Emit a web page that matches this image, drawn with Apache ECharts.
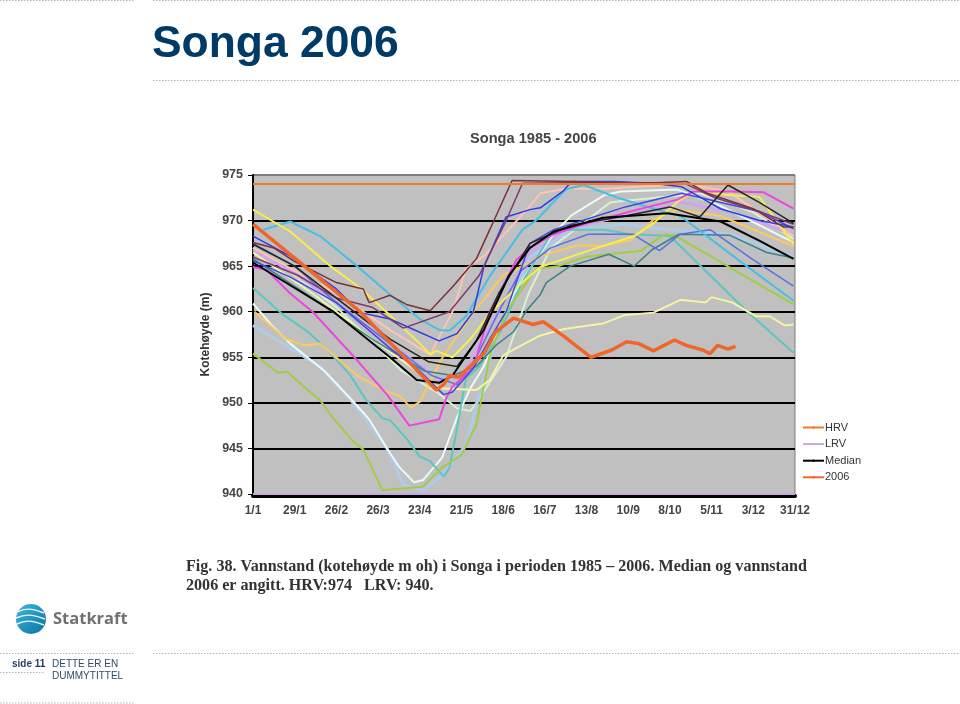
<!DOCTYPE html>
<html><head><meta charset="utf-8">
<style>html,body{margin:0;padding:0;background:#fff}#c{width:960px;height:704px}</style>
<script src="https://cdn.jsdelivr.net/npm/echarts@6/dist/echarts.min.js"></script>
</head><body><div id="c"></div>
<script>
// x = days since 1 Jan, y = kotehøyde (m)
const tickLabels = ['1/1','29/1','26/2','26/3','23/4','21/5','18/6','16/7','13/8','10/9','8/10','5/11','3/12','31/12'];
const hrv = [[0,974],[364,974]];
const lrv = [[0,940],[364,940]];
const y2006 = [[0,969.6],[72,960],[123,951.4],[128,952],[132,953],[138,952.8],[155,955.4],[163,957.8],[175,959.3],[188,958.6],[195,958.9],[208,957.4],[227,955],[241,955.8],[251,956.7],[259,956.5],[269,955.7],[283,956.9],[291,956.3],[302,955.8],[307,955.4],[312,956.3],[319,955.9],[324,956.2]];
const median = [[0,965.4],[28,962.6],[54,960],[92,955],[110,952.5],[125,952.2],[134,953],[155,958],[172,964],[186,967],[202,968.8],[235,970.3],[278,970.8],[314,969.9],[340,967.8],[363,965.8]];
const darkOlive = [[0,967.4],[28,965],[56,961.5],[92,957],[118,954.5],[137,954],[150,956.8],[165,962],[186,967.5],[214,969.5],[250,970.5],[280,971.5],[300,970.4],[319,973.9],[340,972],[363,969.7]];
const maroonA = [[0,967.6],[14,967],[27,965.6],[56,963.2],[74,962.5],[78,961],[92,961.8],[103,960.8],[119,960.1],[135,962.9],[150,965.8],[159,969],[174,974.4],[215,974.3],[250,974],[291,974.3],[305,973],[336,971.3],[356,969.3],[363,969.3]];
const maroonB = [[0,966],[30,964],[56,961.5],[80,960.5],[101,958.2],[132,960],[152,964],[170,970],[181,974.1],[240,974.2],[291,974],[310,972.5],[340,971],[363,969.6]];
const blueA = [[0,968.3],[25,966.1],[56,962.5],[72,959.9],[92,959.2],[125,956.8],[137,957.6],[148,960],[155,964.9],[170,970.4],[186,971.2],[193,971.4],[208,973.2],[214,974.3],[243,974.3],[268,974.1],[288,973.7],[314,971.3],[340,970],[363,969.3]];
const blueB = [[0,965.6],[25,963.8],[56,961],[92,956],[112,953.5],[128,950.9],[134,951.2],[148,953.8],[159,957],[170,960],[186,967.5],[202,969],[250,971.5],[288,973],[340,971],[363,969.1]];
const steelBlue = [[0,967.5],[28,965],[56,961],[92,956.5],[120,953],[137,952],[150,955],[165,960],[180,964.5],[200,967],[225,968.5],[255,968.5],[273,966.7],[287,968.5],[307,969],[335,965.8],[363,962.8]];
const yellow = [[0,971.2],[25,968.8],[52,965],[72,962.6],[92,959.6],[112,956.5],[119,955.3],[123,955.7],[134,955],[146,957],[160,960],[180,963.1],[193,964.9],[231,967],[256,968.3],[269,969.7],[287,972.3],[298,973.4],[319,972.8],[340,972.6],[363,967.4]];
const cyan = [[7,969],[25,969.9],[45,968.3],[70,965],[92,961.9],[112,959.2],[125,958],[132,957.9],[143,959.5],[159,963.9],[181,969],[190,970],[201,971.9],[210,973.4],[222,973.9],[245,972.5],[265,971.5],[287,970.5],[325,965.8],[363,961.2]];
const paleBlue = [[0,958.5],[25,956],[45,954],[67,950],[90,945],[101,941],[114,940.4],[127,942],[143,945.4],[155,952.7],[165,958],[170,960],[186,966],[214,969],[250,969.6],[280,969],[320,968.5],[363,966]];
const white = [[0,960.9],[12,958.6],[25,956.5],[48,953.5],[67,950.2],[78,948.2],[90,945],[98,943],[108,941.3],[114,941.5],[127,944],[137,948.4],[146,951.6],[155,954],[159,955.6],[175,962],[202,968.6],[214,970.6],[236,972.8],[247,973.2],[285,973.4],[314,971.6],[340,969.5],[363,967.6]];
const teal = [[0,962.6],[20,959.7],[36,957.9],[49,956],[65,953.1],[76,950.3],[87,948.3],[92,948.1],[103,946.1],[112,944.1],[119,943.6],[128,941.9],[132,942.9],[137,947.2],[143,952.7],[152,954],[166,957.8],[180,963],[202,969],[236,969],[253,968.5],[280,968.3],[332,960],[363,955.5]];
const lime = [[0,955.4],[17,953.3],[23,953.4],[34,951.8],[45,950.3],[54,948.3],[67,945.8],[74,944.9],[87,940.4],[114,940.8],[127,942.9],[140,944.3],[150,947.6],[159,955.2],[170,960],[179,962.1],[190,964.7],[205,965],[223,966],[239,966.3],[261,966.7],[268,967.6],[277,968.5],[284,968.3],[363,960.8]];
const magenta = [[0,964.9],[9,964.6],[25,962],[40,960],[67,955.2],[90,950.9],[105,947.5],[125,948.2],[130,950.6],[134,951.8],[148,953.8],[159,960],[177,965.7],[186,967],[202,968.5],[224,969.7],[258,971.2],[285,972.3],[296,973.2],[322,973.2],[343,973.1],[363,971.3]];
const gold = [[1,960],[22,957],[35,956.3],[45,956.5],[70,953],[90,951.2],[98,950.8],[106,949.5],[112,950.1],[127,954.9],[148,960],[155,961.3],[168,964],[186,965.4],[193,966.1],[218,967.3],[236,967.2],[254,967.9],[269,970.1],[285,971.2],[314,970.5],[363,967.2]];
const paleYellow = [[0,966.5],[40,962],[80,957],[110,953.5],[125,951.6],[150,951.4],[159,952.5],[168,955.2],[179,956.2],[193,957.4],[209,958.1],[235,958.7],[249,959.6],[269,959.9],[287,961.3],[304,961],[308,961.6],[322,961],[338,959.5],[347,959.5],[357,958.5],[363,958.6]];
const darkTeal = [[0,965.8],[40,961.5],[80,957],[115,953.5],[134,953],[150,954],[163,956.3],[175,957.8],[184,960.2],[193,961.9],[197,963.2],[213,965],[239,966.3],[256,965],[268,966.8],[286,968.5],[320,968.4],[345,966.5],[363,965.9]];
const peach = [[0,967],[56,962],[92,958],[119,955.3],[134,960],[143,964.7],[155,966.1],[170,968.7],[186,971.6],[193,973],[210,973.5],[236,973.5],[291,974],[319,973.2],[363,968.3]];
const lavender = [[0,966.8],[28,964.2],[56,961],[92,956.5],[125,952.5],[140,953],[165,960],[186,966.5],[214,969.2],[260,971],[288,972],[320,971],[363,968.5]];
const paleGreen = [[0,967],[28,964],[56,960.5],[100,953.5],[125,951],[137,949.4],[146,949.1],[150,950],[170,955],[185,962],[200,967],[240,972],[300,973],[335,971],[363,968]];

const black = '#000000';
const lines = [
  ['p1',paleGreen,'#d6f2cf',2],['p2',lavender,'#cda6ee',3],['p3',peach,'#ffc4b0',2],
  ['p4',paleBlue,'#b0cbe8',3],['p5',white,'#e8fbf4',2],['p6',teal,'#5cc6c0',2],
  ['p7',lime,'#a3cb45',2],['p8',gold,'#fdc95c',2],['p9',paleYellow,'#f4f4a4',2],
  ['p10',darkTeal,'#3c8088',1.5],['p11',steelBlue,'#5a70dc',1.5],['p12',cyan,'#48bfe2',2],
  ['p13',yellow,'#f5ee4e',2],['p14',magenta,'#ec46de',2],['p15',blueB,'#4048e0',1.5],
  ['p16',blueA,'#2c3ce6',1.5],['p17',maroonB,'#7d3a6e',1.5],['p18',maroonA,'#7c2f3d',1.5],
  ['p19',darkOlive,'#26261a',1.5],
  ['HRV',hrv,'#ee7a2c',2],['LRV',lrv,'#c8a8e4',2],['Median',median,black,2],['2006',y2006,'#f0662a',3.5]
];

const dotted = (x1,y,x2,c) => ({type:'line',silent:true,shape:{x1,y1:y,x2,y2:y},style:{stroke:c||'#b4b4b4',lineWidth:1,lineDash:[1.5,1.5]}});
const txt = (x,y,text,font,fill) => ({type:'text',silent:true,x,y,style:{text,font,fill,verticalAlign:'middle',align:'left'}});
const stripe = (x1,y1,cx,y2,x2,y3) => ({type:'bezierCurve',silent:true,z:12,shape:{x1,y1,cpx1:cx,cpy1:y2,cpx2:cx+6,cpy2:y2,x2,y2:y3},style:{stroke:'#e6f6fa',lineWidth:1.4,fill:null}});

const chart = echarts.init(document.getElementById('c'),null,{renderer:'canvas'});
chart.setOption({
  animation:false,
  backgroundColor:'#ffffff',
  title:{text:'Songa 1985 - 2006',left:470,top:131,padding:0,
    textStyle:{fontFamily:'Liberation Sans',fontSize:14.6,fontWeight:'bold',color:'#444444'}},
  grid:{left:253,right:165,top:175,bottom:210,show:true,backgroundColor:'#c0c0c0',borderColor:'#7f7f7f',borderWidth:1},
  legend:{orient:'vertical',left:802,top:422,itemWidth:21,itemHeight:3,itemGap:5.6,padding:0,
    data:['HRV','LRV','Median','2006'],
    textStyle:{fontFamily:'Liberation Sans',fontSize:11,color:'#333333',padding:[0,0,0,-4]}},
  xAxis:{type:'value',min:0,max:364,interval:28,offset:2,
    axisLine:{show:true,onZero:false,lineStyle:{color:black,width:4}},
    axisTick:{show:false},splitLine:{show:false},
    axisLabel:{margin:9,fontFamily:'Liberation Sans',fontSize:12,fontWeight:'bold',color:'#444444',hideOverlap:false,showMinLabel:true,showMaxLabel:true,
      formatter:v=>tickLabels[Math.round(v/28)]}},
  yAxis:{type:'value',min:940,max:975,interval:5,name:'Kotehøyde (m)',nameLocation:'middle',nameGap:41,
    nameTextStyle:{fontFamily:'Liberation Sans',fontSize:12,fontWeight:'bold',color:'#333333'},
    axisLine:{show:true,lineStyle:{color:black,width:2}},
    axisTick:{show:true,length:5,lineStyle:{color:black,width:1}},
    splitLine:{show:true,lineStyle:{color:[black,black,black,black,black,black,black,'#7f7f7f'],width:2}},
    axisLabel:{margin:10,fontFamily:'Liberation Sans',fontSize:12.5,fontWeight:'bold',color:'#444444'}},
  series:lines.map(([name,data,color,width])=>({
    name,type:'line',data,showSymbol:false,symbol:'none',clip:true,
    lineStyle:{color,width},itemStyle:{color},emphasis:{disabled:true}
  })),
  graphic:[
    dotted(0,0.5,135),dotted(153,0.5,960),dotted(153,80.5,960),
    dotted(0,653.5,135),dotted(153,653.5,960),dotted(0,672.5,45),dotted(0,703,135),
    txt(152,45,'Songa 2006','bold 44.4px "Liberation Sans"','#003a66'),
    txt(186,567,'Fig. 38. Vannstand (kotehøyde m oh) i Songa i perioden 1985 – 2006. Median og vannstand','bold 16.1px "Liberation Serif"','#333333'),
    txt(186,586,'2006 er angitt. HRV:974   LRV: 940.','bold 16.1px "Liberation Serif"','#333333'),
    {type:'circle',silent:true,z:11,shape:{cx:31,cy:619,r:15},style:{fill:new echarts.graphic.LinearGradient(0,0,1,1,[{offset:0,color:'#3fb8d8'},{offset:.55,color:'#2291bd'},{offset:1,color:'#0e6f9c'}])}},
    stripe(17,612,25,608,44,613),stripe(16,618,25,614,45,619),stripe(17,624,25,620,44,625),
    txt(53,619,'Statkraft','bold 16.5px "Open Sans"','#6e7173'),
    txt(12,664,'side 11','bold 10px "Liberation Sans"','#1f3a5c'),
    txt(52,664,'DETTE ER EN','10px "Liberation Sans"','#2c4d6b'),
    txt(52,676,'DUMMYTITTEL','10px "Liberation Sans"','#2c4d6b')
  ]
});
</script></body></html>
